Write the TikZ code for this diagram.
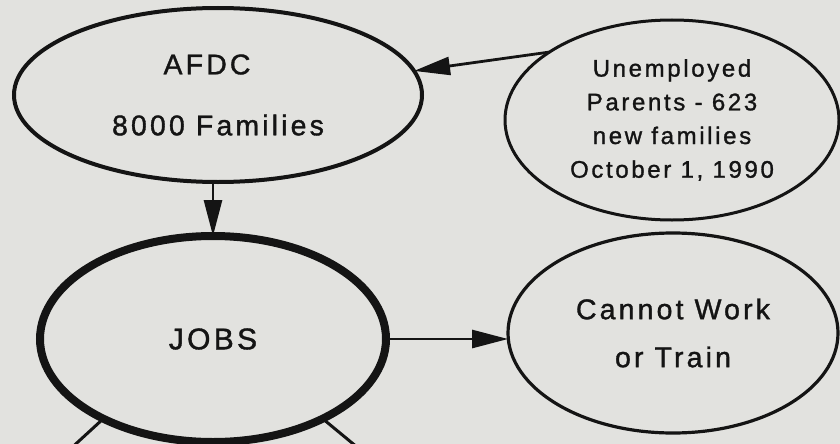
\documentclass[tikz,border=0pt]{standalone}
\usepackage{fontspec}
\setmainfont{Liberation Sans}
\newfontfamily\spacedf[LetterSpace=11,FakeBold=1.2]{Liberation Sans}
\usetikzlibrary{shapes.geometric,arrows.meta}
\definecolor{paper}{RGB}{226,226,223}
\definecolor{ink}{RGB}{20,20,20}
\begin{document}
\begin{tikzpicture}[x=1pt,y=-1pt,
  oval/.style={ellipse, draw=ink, inner sep=0pt, outer sep=0pt, align=center, text=ink},
  link/.style={draw=ink, line width=2.8pt, -{Triangle[length=36pt,width=18pt]}},
  plainline/.style={draw=ink, line width=3pt}]
\fill[paper] (0,0) rectangle (840,444);
\useasboundingbox (0,0) rectangle (840,444);
\node[oval, line width=4pt, minimum width=408pt, minimum height=174pt,
  font=\spacedf\fontsize{28.5}{34}\selectfont] (afdc) at (218,95)
  {AFDC\hspace*{22pt}\\[27pt]8000 Families};
\node[oval, line width=3pt, minimum width=334pt, minimum height=200pt,
  font=\spacedf\fontsize{24}{33.7}\selectfont] (unemp) at (672,120)
  {Unemployed\\Parents - 623\\new families\\October 1, 1990};
\node[oval, line width=8pt, minimum width=346pt, minimum height=206pt,
  font=\spacedf\fontsize{30}{36}\selectfont] (jobs) at (213,339) {JOBS};
\node[oval, line width=3.2pt, minimum width=330pt, minimum height=200pt,
  font=\spacedf\fontsize{28.5}{48}\selectfont] (cannot) at (673,333) {Cannot Work\\or Train};
\coordinate (offl) at (67,452);
\coordinate (offr) at (363,452);
\draw[link] (unemp.151) -- (afdc.7.2);
\draw[link] (afdc.south -| jobs.north) -- (jobs.north);
\draw[link] (jobs.east) -- (jobs.east -| cannot.west);
\begin{scope}
\clip (0,0) rectangle (840,444);
\draw[plainline] (jobs.216.9) -- (offl);
\draw[plainline] (jobs.324.3) -- (offr);
\end{scope}
\end{tikzpicture}
\end{document}
